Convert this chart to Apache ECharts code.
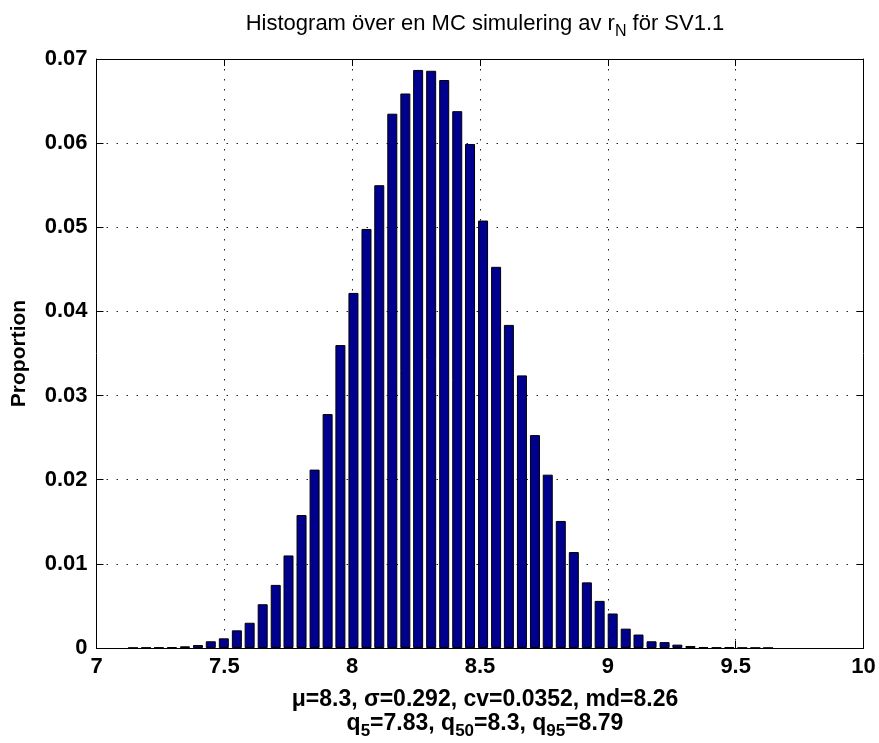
<!DOCTYPE html>
<html>
<head>
<meta charset="utf-8">
<script src="https://cdn.jsdelivr.net/npm/echarts@6/dist/echarts.min.js"></script>
<style>
html,body{margin:0;padding:0;background:#fff;}
#chart{width:879px;height:743px;}
</style>
</head>
<body>
<div id="chart"></div>
<script>
// Bin centres of the histogram (x values)
const binCenters = [
  7.143, 7.194, 7.244, 7.295, 7.346, 7.397, 7.447, 7.498, 7.549, 7.599,
  7.650, 7.701, 7.751, 7.802, 7.853, 7.904, 7.954, 8.005, 8.056, 8.106,
  8.157, 8.208, 8.258, 8.309, 8.360, 8.411, 8.461, 8.512, 8.563, 8.613,
  8.664, 8.715, 8.765, 8.816, 8.867, 8.918, 8.968, 9.019, 9.070, 9.120,
  9.171, 9.222, 9.272, 9.323, 9.374, 9.425, 9.475, 9.526, 9.577, 9.627
];
// Proportion in each bin
const proportions = [
  0.00003, 0.00005, 0.00006, 0.0001, 0.0002, 0.00035, 0.0008, 0.00115, 0.0021, 0.0030,
  0.0052, 0.0075, 0.0110, 0.0158, 0.0212, 0.0278, 0.0360, 0.0422, 0.0498, 0.0550,
  0.0635, 0.0659, 0.0687, 0.0686, 0.0675, 0.0638, 0.0599, 0.0508, 0.0453, 0.0384,
  0.0324, 0.0253, 0.0206, 0.0151, 0.0114, 0.0078, 0.0056, 0.0041, 0.0023, 0.0016,
  0.0008, 0.0007, 0.0004, 0.00024, 0.00012, 0.00006, 0.0001, 0.00004, 0.00003, 0.00002
];
const titleText = 'Histogram över en MC simulering av r{s|N} för SV1.1';
const statsLine1 = 'μ=8.3, σ=0.292, cv=0.0352, md=8.26';
const statsLine2 = 'q{s|5}=7.83, q{s|50}=8.3, q{s|95}=8.79';
const yLabel = 'Proportion';

const FONT = '"Liberation Sans", Arial, Helvetica, sans-serif';
const chart = echarts.init(document.getElementById('chart'), null, {renderer: 'canvas'});

const grid = {left: 96.5, right: 15.5, top: 59, bottom: 95, show: false};
const gridLine = {show: true, lineStyle: {color: '#222', width: 1, type: [1.5, 8.5]}};
const tickStyle = {show: true, inside: true, length: 7, lineStyle: {color: '#000', width: 1}};

const option = {
  backgroundColor: '#fff',
  animation: false,
  title: [
    {
      text: titleText,
      left: 480, top: 3, textAlign: 'center',
      textStyle: {
        fontFamily: FONT, fontSize: 22, fontWeight: 'normal', color: '#000',
        rich: {
          s: {fontFamily: FONT, fontSize: 16, color: '#000', padding: [16, 0, 0, 0]}
        }
      }
    },
    {
      text: statsLine1,
      left: 480, top: 683, textAlign: 'center',
      textStyle: {fontFamily: FONT, fontSize: 23, fontWeight: 'bold', color: '#000'}
    },
    {
      text: statsLine2,
      left: 480, top: 702, textAlign: 'center',
      textStyle: {
        fontFamily: FONT, fontSize: 23, fontWeight: 'bold', color: '#000',
        rich: {
          s: {fontFamily: FONT, fontSize: 17, fontWeight: 'bold', color: '#000', padding: [16, 0, 0, 0]}
        }
      }
    }
  ],
  grid: grid,
  xAxis: [
    {
      type: 'value', min: 7, max: 10, interval: 0.5, position: 'bottom',
      axisLine: {show: true, onZero: false, lineStyle: {color: '#000', width: 1}},
      axisTick: tickStyle,
      splitLine: gridLine,
      axisLabel: {color: '#000', fontFamily: FONT, fontSize: 22, fontWeight: 'bold', margin: 8}
    },
    {
      type: 'value', min: 7, max: 10, interval: 0.5, position: 'top',
      axisLine: {show: true, onZero: false, lineStyle: {color: '#000', width: 1}},
      axisTick: tickStyle, splitLine: {show: false}, axisLabel: {show: false}
    }
  ],
  yAxis: [
    {
      type: 'value', min: 0, max: 0.07, interval: 0.01, position: 'left',
      name: yLabel, nameLocation: 'middle', nameGap: 67, nameRotate: 90,
      nameTextStyle: {color: '#000', fontFamily: FONT, fontSize: 21, fontWeight: 'bold'},
      axisLine: {show: true, onZero: false, lineStyle: {color: '#000', width: 1}},
      axisTick: tickStyle,
      splitLine: gridLine,
      axisLabel: {
        color: '#000', fontFamily: FONT, fontSize: 22, fontWeight: 'bold', margin: 9,
        formatter: v => (v === 0 ? '0' : v.toFixed(2))
      }
    },
    {
      type: 'value', min: 0, max: 0.07, interval: 0.01, position: 'right',
      axisLine: {show: true, onZero: false, lineStyle: {color: '#000', width: 1}},
      axisTick: tickStyle, splitLine: {show: false}, axisLabel: {show: false}
    }
  ],
  series: [
    {
      type: 'bar',
      xAxisIndex: 0, yAxisIndex: 0,
      data: binCenters.map((x, i) => [x, proportions[i]]),
      barWidth: 10,
      itemStyle: {color: '#00008F', borderColor: '#000', borderWidth: 1}
    }
  ]
};
chart.setOption(option);
</script>
</body>
</html>
